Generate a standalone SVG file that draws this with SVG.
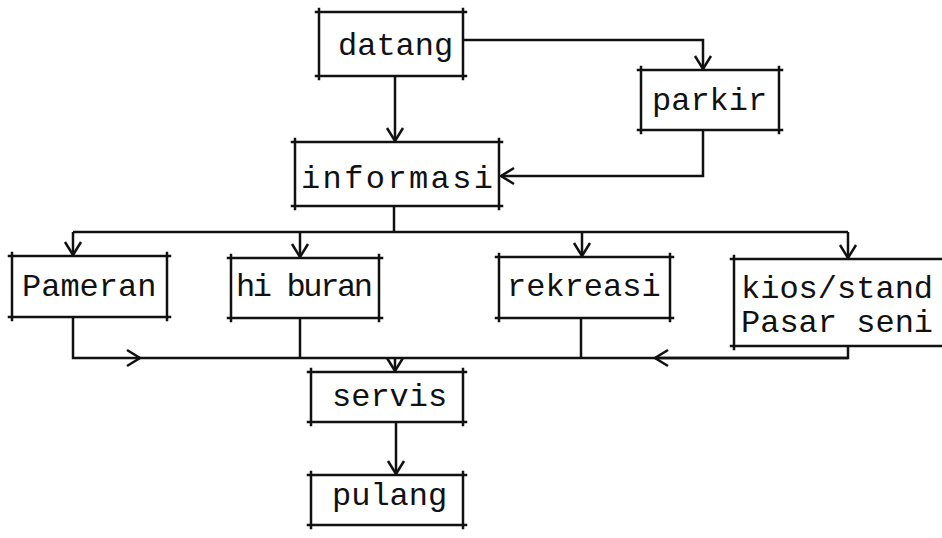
<svg xmlns="http://www.w3.org/2000/svg" width="942" height="538" viewBox="0 0 942 538">
<style>
.b{fill:none;stroke:#111;stroke-width:2.5;stroke-linecap:square}
.c{fill:none;stroke:#111;stroke-width:2.5}
.t{font-family:"Liberation Mono","Courier New",monospace;font-size:32px;fill:#111}
</style>
<defs>
<marker id="ah" markerWidth="18" markerHeight="20" viewBox="-16 -10 18 20" refX="0" refY="0" orient="auto" markerUnits="userSpaceOnUse">
<path d="M-13,-8 L0,0 L-13,8" fill="none" stroke="#111" stroke-width="2.5"/>
</marker>
</defs>
<rect width="942" height="538" fill="#fff"/>
<g id="connectors">
<path class="c" d="M463,40 H703 V69" marker-end="url(#ah)"/>
<path class="c" d="M395,77 V141" marker-end="url(#ah)"/>
<path class="c" d="M703,131 V176 H501" marker-end="url(#ah)"/>
<path class="c" d="M394,207 V232"/>
<path class="c" d="M73,232 H848"/>
<path class="c" d="M73,232 V255" marker-end="url(#ah)"/>
<path class="c" d="M300,232 V257" marker-end="url(#ah)"/>
<path class="c" d="M582,232 V256" marker-end="url(#ah)"/>
<path class="c" d="M848,232 V258" marker-end="url(#ah)"/>
<path class="c" d="M73,318 V358 H140" marker-end="url(#ah)"/>
<path class="c" d="M138,358 H848 V345"/>
<path class="c" d="M848,358 H655" marker-end="url(#ah)"/>
<path class="c" d="M300,319 V358"/>
<path class="c" d="M581,319 V358"/>
<path class="c" d="M395,358 V371" marker-end="url(#ah)"/>
<path class="c" d="M396,423 V474" marker-end="url(#ah)"/>
</g>
<g id="datang">
<path class="b" d="M316,12 H466 M319,9 V79 M316,76 H466 M463,9 V79"/>
<text class="t" x="338" y="55">datang</text>
</g>
<g id="parkir">
<path class="b" d="M638,70 H782 M641,67 V133 M638,130 H782 M779,67 V133"/>
<text class="t" x="652" y="110">parkir</text>
</g>
<g id="informasi">
<path class="b" d="M292,142 H502 M295,139 V209 M292,206 H502 M499,139 V209"/>
<text class="t" x="301" y="188" textLength="192" lengthAdjust="spacing">informasi</text>
</g>
<g id="pameran">
<path class="b" d="M9,256 H170 M12,253 V320 M9,317 H170 M167,253 V320"/>
<text class="t" x="22" y="296">Pameran</text>
</g>
<g id="hiburan">
<path class="b" d="M228,258 H382 M231,255 V321 M228,318 H382 M379,255 V321"/>
<text class="t" x="236" y="296" textLength="137" lengthAdjust="spacing">hi buran</text>
</g>
<g id="rekreasi">
<path class="b" d="M496,257 H673 M499,254 V321 M496,318 H673 M670,254 V321"/>
<text class="t" x="507" y="296">rekreasi</text>
</g>
<g id="kios">
<path class="b" d="M731,259 H945 M734,256 V349 M731,346 H945"/>
<text class="t" x="741" y="298">kios/stand</text>
<text class="t" x="741" y="332">Pasar seni</text>
</g>
<g id="servis">
<path class="b" d="M308,372 H466 M311,369 V425 M308,422 H466 M463,369 V425"/>
<text class="t" x="332" y="406">servis</text>
</g>
<g id="pulang">
<path class="b" d="M308,475 H466 M311,472 V528 M308,525 H466 M463,472 V528"/>
<text class="t" x="332" y="505">pulang</text>
</g>
</svg>
